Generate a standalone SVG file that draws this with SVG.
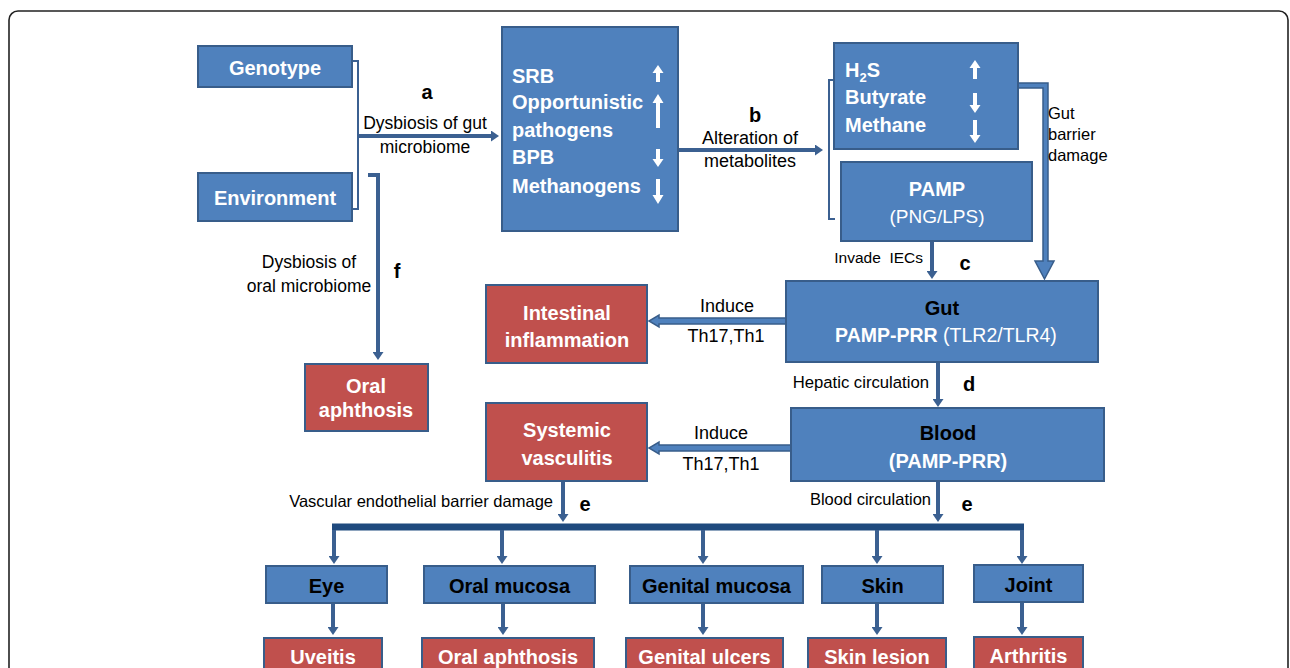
<svg xmlns="http://www.w3.org/2000/svg" width="1290" height="668" viewBox="0 0 1290 668">
<style>
.bb{fill:#4F81BD;stroke:#385D8A;stroke-width:2}
.rb{fill:#C0504D;stroke:#385D8A;stroke-width:2}
.t{font-family:"Liberation Sans",Arial,sans-serif}
.wb{font-family:"Liberation Sans",Arial,sans-serif;font-weight:bold;fill:#fff;font-size:20px}
.kb{font-family:"Liberation Sans",Arial,sans-serif;font-weight:bold;fill:#000;font-size:20px}
.lab{font-family:"Liberation Sans",Arial,sans-serif;fill:#000}
.mid{text-anchor:middle}
.end{text-anchor:end}
.ln{fill:none;stroke:#3B6091;stroke-width:4}
.br{fill:none;stroke:#3B6091;stroke-width:2}
.blk{fill:#4F81BD;stroke:#385D8A;stroke-width:1.5}
.wa{fill:#fff}
</style>
<defs>
<marker id="ah" markerUnits="userSpaceOnUse" markerWidth="8" markerHeight="11" viewBox="0 0 8 11" refX="3" refY="5.5" orient="auto">
<path d="M0,0 L8,5.5 L0,11 z" fill="#3B6091"/>
</marker>
</defs>
<rect x="9" y="11" width="1279" height="700" rx="9" fill="#fff" stroke="#222" stroke-width="1.6"/>

<g id="connectors">
<path class="br" d="M352,61 H358 V209 H352"/>
<path class="ln" stroke-width="3.5" d="M358,136 H494" marker-end="url(#ah)"/>
<path class="ln" stroke-width="3.5" d="M678,150 H818" marker-end="url(#ah)"/>
<path class="br" d="M835,80 H829 V219 H835"/>
<path class="ln" stroke-width="4.5" d="M368,175 H378 V355" marker-end="url(#ah)"/>
<path class="blk" d="M1018,83 H1048 V261 H1054 L1044.5,279 L1035,261 H1043 V88 H1018 Z"/>
<path class="ln" d="M932,241 V274" marker-end="url(#ah)"/>
<path class="blk" d="M786,318 H659 V315 L649,321 L659,327 V324 H786 Z"/>
<path class="ln" d="M938,362 V402" marker-end="url(#ah)"/>
<path class="blk" d="M791,445 H659 V442 L649,448 L659,454 V451 H791 Z"/>
<path class="ln" d="M563,481 V517" marker-end="url(#ah)"/>
<path class="ln" d="M938,481 V517" marker-end="url(#ah)"/>
<path fill="none" stroke="#1F4A7E" stroke-width="7" d="M332,527 H1024"/>
<path class="ln" d="M334,530 V559" marker-end="url(#ah)"/>
<path class="ln" d="M502,530 V559" marker-end="url(#ah)"/>
<path class="ln" d="M703,530 V559" marker-end="url(#ah)"/>
<path class="ln" d="M877,530 V559" marker-end="url(#ah)"/>
<path class="ln" d="M1022,530 V559" marker-end="url(#ah)"/>
<path class="ln" d="M333,603 V630" marker-end="url(#ah)"/>
<path class="ln" d="M503,603 V630" marker-end="url(#ah)"/>
<path class="ln" d="M703,603 V630" marker-end="url(#ah)"/>
<path class="ln" d="M877,603 V630" marker-end="url(#ah)"/>
<path class="ln" d="M1022,603 V630" marker-end="url(#ah)"/>
</g>

<g id="labels">
<text class="kb mid" x="427" y="99">a</text>
<text class="lab mid" x="425" y="129" font-size="17.5">Dysbiosis of gut</text>
<text class="lab mid" x="425" y="153" font-size="17.5">microbiome</text>
<text class="kb mid" x="755" y="122">b</text>
<text class="lab mid" x="750" y="144" font-size="18">Alteration of</text>
<text class="lab mid" x="750" y="167" font-size="18">metabolites</text>
<text class="lab" x="1048" y="119" font-size="16.5">Gut</text>
<text class="lab" x="1048" y="140" font-size="16.5">barrier</text>
<text class="lab" x="1048" y="161" font-size="16.5">damage</text>
<text class="lab end" x="923" y="263" font-size="15.5" xml:space="preserve">Invade  IECs</text>
<text class="kb mid" x="965" y="270">c</text>
<text class="lab mid" x="727" y="312" font-size="18">Induce</text>
<text class="lab mid" x="726" y="342" font-size="18">Th17,Th1</text>
<text class="lab end" x="929" y="388" font-size="16.7">Hepatic circulation</text>
<text class="kb mid" x="969" y="391">d</text>
<text class="lab mid" x="309" y="268" font-size="17.5">Dysbiosis of</text>
<text class="lab mid" x="309" y="292" font-size="17.5">oral microbiome</text>
<text class="kb mid" x="397" y="278">f</text>
<text class="lab mid" x="721" y="439" font-size="18">Induce</text>
<text class="lab mid" x="721" y="470" font-size="18">Th17,Th1</text>
<text class="lab end" x="553" y="507" font-size="16.5">Vascular endothelial barrier damage</text>
<text class="kb mid" x="585" y="511">e</text>
<text class="lab end" x="931" y="505" font-size="16.5">Blood circulation</text>
<text class="kb mid" x="967" y="511">e</text>
</g>

<g id="genotype">
<rect class="bb" x="198" y="46" width="154" height="41"/>
<text class="wb mid" x="275" y="75">Genotype</text>
</g>
<g id="environment">
<rect class="bb" x="198" y="173" width="154" height="48"/>
<text class="wb mid" x="275" y="205">Environment</text>
</g>

<g id="microbes">
<rect class="bb" x="502" y="27" width="176" height="204"/>
<text class="wb" x="512" y="83">SRB</text>
<text class="wb" x="512" y="109">Opportunistic</text>
<text class="wb" x="512" y="137">pathogens</text>
<text class="wb" x="512" y="164">BPB</text>
<text class="wb" x="512" y="193">Methanogens</text>
<path class="wa" d="M656,82 V73 H652.5 L658,65 L663.5,73 H660 V82 Z"/>
<path class="wa" d="M656,128 V103 H652.5 L658,94 L663.5,103 H660 V128 Z"/>
<path class="wa" d="M656,149 V159 H652.5 L658,167 L663.5,159 H660 V149 Z"/>
<path class="wa" d="M656,179 V195 H652.5 L658,204 L663.5,195 H660 V179 Z"/>
</g>

<g id="metabolites">
<rect class="bb" x="834" y="43" width="184" height="106"/>
<text class="wb" x="845" y="77">H<tspan font-size="13" dy="5">2</tspan><tspan dy="-5">S</tspan></text>
<text class="wb" x="845" y="104">Butyrate</text>
<text class="wb" x="845" y="132">Methane</text>
<path class="wa" d="M973,79 V68 H969.5 L975,60 L980.5,68 H977 V79 Z"/>
<path class="wa" d="M973,93 V105 H969.5 L975,113 L980.5,105 H977 V93 Z"/>
<path class="wa" d="M973,120 V135 H969.5 L975,143 L980.5,135 H977 V120 Z"/>
</g>

<g id="pamp">
<rect class="bb" x="841" y="162" width="191" height="79"/>
<text class="wb mid" x="937" y="196">PAMP</text>
<text class="t mid" x="937" y="223" font-size="19" fill="#fff">(PNG/LPS)</text>
</g>

<g id="gut">
<rect class="bb" x="786" y="281" width="312" height="81"/>
<text class="kb mid" x="942" y="315">Gut</text>
<text class="t mid" x="946" y="342" font-size="19.5" fill="#fff"><tspan font-weight="bold">PAMP-PRR</tspan> (TLR2/TLR4)</text>
</g>

<g id="intestinal-inflammation">
<rect class="rb" x="486" y="285" width="161" height="78"/>
<text class="wb mid" x="567" y="320">Intestinal</text>
<text class="wb mid" x="567" y="347">inflammation</text>
</g>

<g id="oral-aphthosis-top">
<rect class="rb" x="305" y="364" width="123" height="67"/>
<text class="wb mid" x="366" y="393">Oral</text>
<text class="wb mid" x="366" y="417">aphthosis</text>
</g>

<g id="blood">
<rect class="bb" x="791" y="408" width="313" height="73"/>
<text class="kb mid" x="948" y="440">Blood</text>
<text class="wb mid" x="948" y="468">(PAMP-PRR)</text>
</g>

<g id="systemic-vasculitis">
<rect class="rb" x="486" y="403" width="161" height="78"/>
<text class="wb mid" x="567" y="437">Systemic</text>
<text class="wb mid" x="567" y="465">vasculitis</text>
</g>

<g id="eye"><rect class="bb" x="266" y="566" width="121" height="37"/><text class="kb mid" x="326.5" y="593">Eye</text></g>
<g id="oral-mucosa"><rect class="bb" x="424" y="566" width="171" height="37"/><text class="kb mid" x="509.5" y="593">Oral mucosa</text></g>
<g id="genital-mucosa"><rect class="bb" x="630" y="566" width="173" height="37"/><text class="kb mid" x="716.5" y="593">Genital mucosa</text></g>
<g id="skin"><rect class="bb" x="822" y="566" width="121" height="37"/><text class="kb mid" x="882.5" y="593">Skin</text></g>
<g id="joint"><rect class="bb" x="974" y="565" width="109" height="37"/><text class="kb mid" x="1028.5" y="592">Joint</text></g>

<g id="uveitis"><rect class="rb" x="264" y="638" width="118" height="45"/><text class="wb mid" x="323" y="664">Uveitis</text></g>
<g id="oral-aphthosis"><rect class="rb" x="422" y="638" width="172" height="45"/><text class="wb mid" x="508" y="664">Oral aphthosis</text></g>
<g id="genital-ulcers"><rect class="rb" x="626" y="638" width="157" height="45"/><text class="wb mid" x="704.5" y="664">Genital ulcers</text></g>
<g id="skin-lesion"><rect class="rb" x="808" y="638" width="138" height="45"/><text class="wb mid" x="877" y="664">Skin lesion</text></g>
<g id="arthritis"><rect class="rb" x="974" y="637" width="109" height="45"/><text class="wb mid" x="1028.5" y="663">Arthritis</text></g>
</svg>
